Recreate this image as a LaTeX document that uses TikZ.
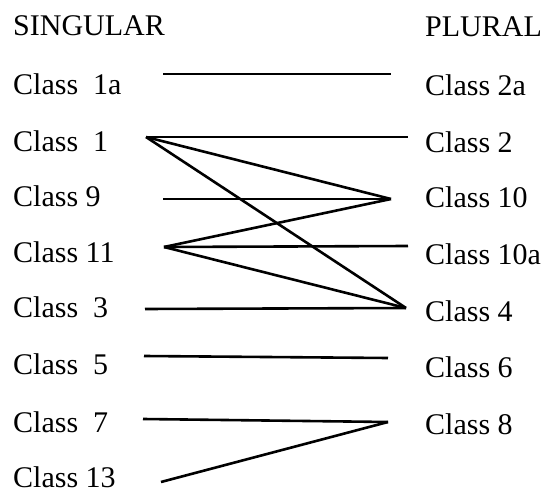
\documentclass[tikz,border=0pt]{standalone}
\usepackage{fontspec}
\setmainfont{Liberation Serif}
\begin{document}
\begin{tikzpicture}[x=1pt,y=-1pt,
  lab/.style={anchor=base west, inner sep=0pt, font=\fontsize{30}{34}\selectfont},
  link/.style={line width=2.6pt, line cap=butt}]
\useasboundingbox[fill=white] (0,0) rectangle (550,492);
% headings
\node[lab] (sg) at (13,36) {SINGULAR};
\node[lab] (pl) at (425,37) {PLURAL};
% singular labels
\node[lab] (s1a) at (13,95)  {Class\ \ 1a};
\node[lab] (s1)  at (13,152) {Class\ \ 1};
\node[lab] (s9)  at (13,207) {Class 9};
\node[lab] (s11) at (13,263) {Class 11};
\node[lab] (s3)  at (13,318) {Class\ \ 3};
\node[lab] (s5)  at (13,375) {Class\ \ 5};
\node[lab] (s7)  at (13,433) {Class\ \ 7};
\node[lab] (s13) at (13,487) {Class 13};
% plural labels
\node[lab] (p2a) at (425,96)  {Class 2a};
\node[lab] (p2)  at (425,153) {Class 2};
\node[lab] (p10) at (425,208) {Class 10};
\node[lab] (p10a) at (425,265) {Class 10a};
\node[lab] (p4)  at (425,322) {Class 4};
\node[lab] (p6)  at (425,378) {Class 6};
\node[lab] (p8)  at (425,435) {Class 8};
% connector ends
\coordinate (L1a) at (163,74);
\coordinate (L1)  at (146,137);
\coordinate (L9)  at (163,199);
\coordinate (L11) at (164,247);
\coordinate (L3)  at (145,309);
\coordinate (L5)  at (144,356);
\coordinate (L7)  at (143,419);
\coordinate (L13) at (161,482);
\coordinate (R2a) at (391,74);
\coordinate (R2)  at (408,137);
\coordinate (R10) at (391,199);
\coordinate (R10a) at (408,246);
\coordinate (R4)  at (406,308);
\coordinate (R6)  at (388,358);
\coordinate (R8)  at (388,422);
% connectors
\draw[link] (L1a) -- (R2a);
\draw[link] (L1) -- (R2);
\draw[link] (L1) -- (R10);
\draw[link] (L1) -- (R4);
\draw[link] (L9) -- (R10);
\draw[link] (L11) -- (R10);
\draw[link] (L11) -- (R10a);
\draw[link] (L11) -- (R4);
\draw[link] (L3) -- (R4);
\draw[link] (L5) -- (R6);
\draw[link] (L7) -- (R8);
\draw[link] (L13) -- (R8);
\end{tikzpicture}
\end{document}
